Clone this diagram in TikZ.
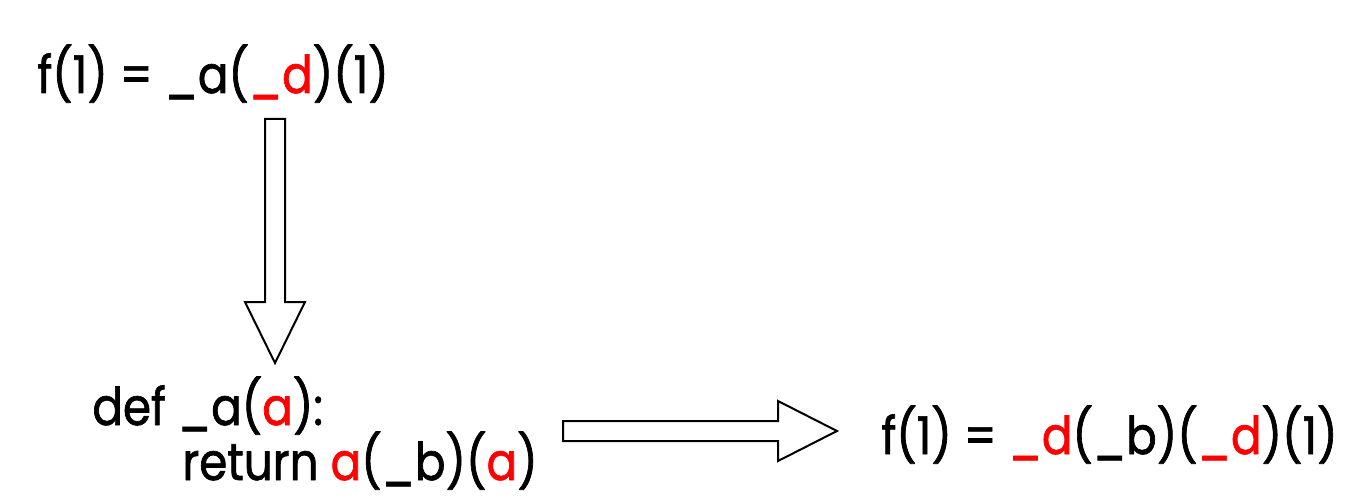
\documentclass[tikz,border=0pt]{standalone}
\usepackage{fontspec}
\setmainfont{Poppins}[FakeStretch=0.87, FakeBold=1.3]
\definecolor{hl}{RGB}{255,0,0}
\tikzset{
  code/.style={anchor=base west, inner sep=0pt, font=\fontsize{26}{30}\selectfont},
  blockarrow/.style={draw=black, line width=1pt, fill=white, line join=miter}
}
\begin{document}
\begin{tikzpicture}[x=0.5pt,y=-0.5pt]
\useasboundingbox (0,0) rectangle (1358,502);
\node[code] (top) at (37,93) {f(1) = \_a(\textcolor{hl}{\_d})(1)};
\node[code] (def) at (92,425) {def \_a(\textcolor{hl}{a}):};
\node[code] (ret) at (182,480) {return \textcolor{hl}{a}(\_b)(\textcolor{hl}{a})};
\node[code] (res) at (881,454) {f(1) = \textcolor{hl}{\_d}(\_b)(\textcolor{hl}{\_d})(1)};
\draw[blockarrow] (265,119) -- (285,119) -- (285,302) -- (305,302) -- (275,363) -- (245,302) -- (265,302) -- cycle;
\draw[blockarrow] (563,421) -- (778,421) -- (778,401) -- (837,431) -- (778,461) -- (778,441) -- (563,441) -- cycle;
\end{tikzpicture}
\end{document}
